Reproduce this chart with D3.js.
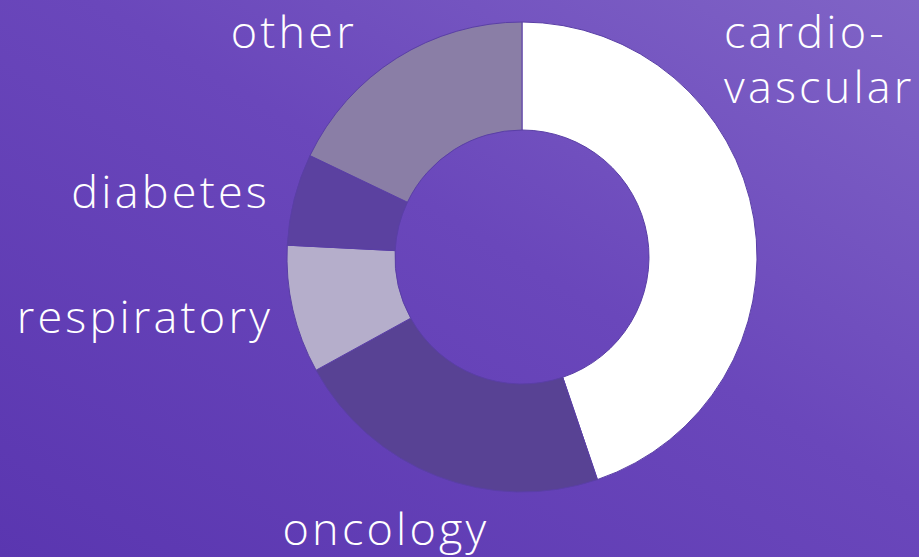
<!DOCTYPE html>
<html>
<head>
<meta charset="utf-8">
<script src="https://cdn.jsdelivr.net/npm/d3@7"></script>
<style>
  html, body { margin: 0; padding: 0; overflow: hidden; }
  text { font-family: "Open Sans", "Noto Sans", sans-serif; font-weight: 300; fill: #fff; }
</style>
</head>
<body>
<script>
// data
const categories = ['cardiovascular', 'oncology', 'respiratory', 'diabetes', 'other'];
const shares = [44.8, 22.2, 8.8, 6.3, 17.9];
const colours = ['#ffffff', '#584294', '#b5aecb', '#5b41a0', '#8a7ea6'];

const width = 919;
const height = 557;

const svg = d3.select('body').append('svg')
    .attr('width', width)
    .attr('height', height);

// purple background, lighter top right
const defs = svg.append('defs');
const grad = defs.append('linearGradient')
    .attr('id', 'bg')
    .attr('x1', '100%').attr('y1', '0%')
    .attr('x2', '0%').attr('y2', '100%');
grad.append('stop').attr('offset', '0%').attr('stop-color', '#8064c6');
grad.append('stop').attr('offset', '45%').attr('stop-color', '#6a47bb');
grad.append('stop').attr('offset', '100%').attr('stop-color', '#5a36b0');

svg.append('rect')
    .attr('width', width)
    .attr('height', height)
    .attr('fill', 'url(#bg)');

const group = svg.append('g')
    .attr('transform', 'translate(522, 257)');

const pie = d3.pie().sort(null).value((d) => d);
const arc = d3.arc().innerRadius(127).outerRadius(235);

group.selectAll('path')
    .data(pie(shares))
    .join('path')
    .attr('d', arc)
    .attr('fill', (d, i) => colours[i])
    .attr('stroke', '#5a3fa6')
    .attr('stroke-width', 1);

// labels, one text per line
const labels = [
    { t: 'cardio-', x: 724, y: 48, anchor: 'start' },
    { t: 'vascular', x: 724, y: 103, anchor: 'start' },
    { t: 'oncology', x: 386, y: 545, anchor: 'middle' },
    { t: 'respiratory', x: 273, y: 333, anchor: 'end' },
    { t: 'diabetes', x: 270, y: 208, anchor: 'end' },
    { t: 'other', x: 357, y: 48, anchor: 'end' }
];

svg.selectAll('text.label')
    .data(labels)
    .join('text')
    .attr('class', 'label')
    .attr('x', (d) => d.x)
    .attr('y', (d) => d.y)
    .attr('text-anchor', (d) => d.anchor)
    .style('font-size', '45px')
    .style('letter-spacing', '3.2px')
    .text((d) => d.t);
</script>
</body>
</html>
